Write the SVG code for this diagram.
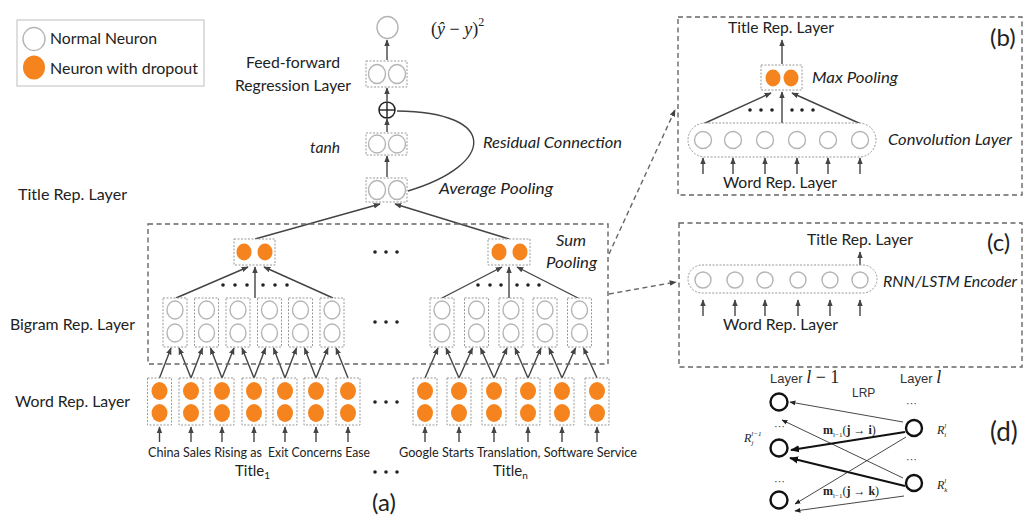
<svg xmlns="http://www.w3.org/2000/svg" xmlns:xlink="http://www.w3.org/1999/xlink" width="1025" height="524" viewBox="0 0 1025 524">
<style>
  .t{font-family:Lato,"Open Sans","Liberation Sans",sans-serif;fill:#222;font-size:15px}
  .it{font-style:italic}
  .s13{font-size:13px}
  .big{font-size:24px}
  .m{font-family:"Liberation Serif","DejaVu Serif",serif;fill:#222}
  .bx{fill:#fff;stroke:#999;stroke-width:1;stroke-dasharray:2 1.5}
  .nn{fill:#fff;stroke:#b5b5b5;stroke-width:1.4}
  .dn{fill:#F5841F;stroke:none}
  .ln{stroke:#444;stroke-width:1.4;fill:none}
  .dash{fill:none;stroke:#666;stroke-width:1.4;stroke-dasharray:5 3.5}
  .dot{fill:#222}
  .dk{fill:#fff;stroke:#111;stroke-width:2.4}
  .dl{stroke:#333;stroke-width:0.9;fill:none}
  .dt{stroke:#111;stroke-width:2.2;fill:none}
</style>
<defs>
  <marker id="ah" viewBox="0 0 10 10" refX="9" refY="5" markerWidth="7" markerHeight="7" orient="auto" markerUnits="userSpaceOnUse">
    <path d="M0,1 L10,5 L0,9 z" fill="#444"/>
  </marker>
  <marker id="ahs" viewBox="0 0 10 10" refX="9" refY="5" markerWidth="6" markerHeight="6" orient="auto" markerUnits="userSpaceOnUse">
    <path d="M0,1 L10,5 L0,9 z" fill="#222"/>
  </marker>
  <marker id="ahb" viewBox="0 0 10 10" refX="9" refY="5" markerWidth="9" markerHeight="9" orient="auto" markerUnits="userSpaceOnUse">
    <path d="M0,1 L10,5 L0,9 z" fill="#111"/>
  </marker>
  <g id="wbox">
    <rect class="bx" x="-12" y="0" width="24" height="47"/>
    <ellipse class="dn" cx="0" cy="13" rx="8" ry="9"/>
    <ellipse class="dn" cx="0" cy="35" rx="8" ry="9"/>
  </g>
  <g id="bbox">
    <rect class="bx" x="-12" y="0" width="24" height="49"/>
    <ellipse class="nn" cx="0" cy="12" rx="8" ry="9"/>
    <ellipse class="nn" cx="0" cy="35" rx="8" ry="9"/>
  </g>
</defs>
<rect width="1025" height="524" fill="#fff"/>

<!-- legend -->
<g id="legend">
  <rect x="17" y="20" width="187" height="66" fill="#fff" stroke="#c8c8c8" stroke-width="1.2"/>
  <ellipse class="nn" cx="34" cy="39" rx="11" ry="11.5"/>
  <ellipse class="dn" cx="34" cy="67.5" rx="11" ry="12"/>
  <text class="t" x="50" y="44" textLength="107" lengthAdjust="spacingAndGlyphs">Normal Neuron</text>
  <text class="t" x="50" y="74" textLength="148" lengthAdjust="spacingAndGlyphs">Neuron with dropout</text>
</g>

<!-- left labels -->
<g id="labels-left">
  <text class="t" x="246" y="68" textLength="94" lengthAdjust="spacingAndGlyphs">Feed-forward</text>
  <text class="t" x="235" y="91" textLength="116" lengthAdjust="spacingAndGlyphs">Regression Layer</text>
  <text class="t" x="18" y="200" textLength="109" lengthAdjust="spacingAndGlyphs">Title Rep. Layer</text>
  <text class="t" x="10" y="330" textLength="125" lengthAdjust="spacingAndGlyphs">Bigram Rep. Layer</text>
  <text class="t" x="15" y="407" textLength="115" lengthAdjust="spacingAndGlyphs">Word Rep. Layer</text>
</g>

<!-- connectors -->
<g id="connectors">
  <!-- top stack -->
  <line class="ln" x1="387" y1="177" x2="387" y2="156" marker-end="url(#ah)"/>
  <line class="ln" x1="387" y1="132" x2="387" y2="119" marker-end="url(#ah)"/>
  <line class="ln" x1="387" y1="101" x2="387" y2="88" marker-end="url(#ah)"/>
  <line class="ln" x1="387" y1="60" x2="387" y2="40" marker-end="url(#ah)"/>
  <path class="ln" d="M408,191 C495,165 500,112 397,111"/>
  <!-- pooled to avg -->
  <line class="ln" x1="255" y1="239" x2="380" y2="204" marker-end="url(#ah)"/>
  <line class="ln" x1="509" y1="239" x2="395" y2="204" marker-end="url(#ah)"/>
  <!-- bigram to pooled left -->
  <line class="ln" x1="176" y1="298" x2="248" y2="267" marker-end="url(#ah)"/>
  <line class="ln" x1="255" y1="298" x2="255" y2="267" marker-end="url(#ah)"/>
  <line class="ln" x1="333" y1="298" x2="264" y2="267" marker-end="url(#ah)"/>
  <!-- bigram to pooled right -->
  <line class="ln" x1="442" y1="298" x2="502" y2="267" marker-end="url(#ah)"/>
  <line class="ln" x1="509" y1="298" x2="509" y2="267" marker-end="url(#ah)"/>
  <line class="ln" x1="578" y1="298" x2="517" y2="267" marker-end="url(#ah)"/>
  <!-- words to bigrams left -->
  <line class="ln" x1="159.5" y1="378" x2="171" y2="348" marker-end="url(#ah)"/>
  <line class="ln" x1="191" y1="378" x2="179" y2="348" marker-end="url(#ah)"/>
  <line class="ln" x1="191" y1="378" x2="202.5" y2="348" marker-end="url(#ah)"/>
  <line class="ln" x1="222" y1="378" x2="210.5" y2="348" marker-end="url(#ah)"/>
  <line class="ln" x1="222" y1="378" x2="234" y2="348" marker-end="url(#ah)"/>
  <line class="ln" x1="254" y1="378" x2="242" y2="348" marker-end="url(#ah)"/>
  <line class="ln" x1="254" y1="378" x2="265.5" y2="348" marker-end="url(#ah)"/>
  <line class="ln" x1="285" y1="378" x2="273.5" y2="348" marker-end="url(#ah)"/>
  <line class="ln" x1="285" y1="378" x2="296.5" y2="348" marker-end="url(#ah)"/>
  <line class="ln" x1="316" y1="378" x2="304.5" y2="348" marker-end="url(#ah)"/>
  <line class="ln" x1="316" y1="378" x2="328" y2="348" marker-end="url(#ah)"/>
  <line class="ln" x1="348" y1="378" x2="336" y2="348" marker-end="url(#ah)"/>
  <!-- words to bigrams right -->
  <line class="ln" x1="425" y1="378" x2="438" y2="348" marker-end="url(#ah)"/>
  <line class="ln" x1="459" y1="378" x2="446" y2="348" marker-end="url(#ah)"/>
  <line class="ln" x1="459" y1="378" x2="472.5" y2="348" marker-end="url(#ah)"/>
  <line class="ln" x1="494" y1="378" x2="480.5" y2="348" marker-end="url(#ah)"/>
  <line class="ln" x1="494" y1="378" x2="507" y2="348" marker-end="url(#ah)"/>
  <line class="ln" x1="528" y1="378" x2="515" y2="348" marker-end="url(#ah)"/>
  <line class="ln" x1="528" y1="378" x2="541" y2="348" marker-end="url(#ah)"/>
  <line class="ln" x1="562" y1="378" x2="549" y2="348" marker-end="url(#ah)"/>
  <line class="ln" x1="562" y1="378" x2="575.5" y2="348" marker-end="url(#ah)"/>
  <line class="ln" x1="597" y1="378" x2="583.5" y2="348" marker-end="url(#ah)"/>
  <!-- input arrows under words -->
  <g>
    <line class="ln" x1="159.5" y1="442" x2="159.5" y2="427" marker-end="url(#ah)"/>
    <line class="ln" x1="191" y1="442" x2="191" y2="427" marker-end="url(#ah)"/>
    <line class="ln" x1="222" y1="442" x2="222" y2="427" marker-end="url(#ah)"/>
    <line class="ln" x1="254" y1="442" x2="254" y2="427" marker-end="url(#ah)"/>
    <line class="ln" x1="285" y1="442" x2="285" y2="427" marker-end="url(#ah)"/>
    <line class="ln" x1="316" y1="442" x2="316" y2="427" marker-end="url(#ah)"/>
    <line class="ln" x1="348" y1="442" x2="348" y2="427" marker-end="url(#ah)"/>
    <line class="ln" x1="425" y1="442" x2="425" y2="427" marker-end="url(#ah)"/>
    <line class="ln" x1="459" y1="442" x2="459" y2="427" marker-end="url(#ah)"/>
    <line class="ln" x1="494" y1="442" x2="494" y2="427" marker-end="url(#ah)"/>
    <line class="ln" x1="528" y1="442" x2="528" y2="427" marker-end="url(#ah)"/>
    <line class="ln" x1="562" y1="442" x2="562" y2="427" marker-end="url(#ah)"/>
    <line class="ln" x1="597" y1="442" x2="597" y2="427" marker-end="url(#ah)"/>
  </g>
  <!-- dashed links to (b) and (c) -->
  <line class="dash" x1="609" y1="254" x2="675" y2="110" marker-end="url(#ah)"/>
  <line class="dash" x1="609" y1="294" x2="676" y2="282" marker-end="url(#ah)"/>
  <!-- panel b -->
  <line class="ln" x1="782" y1="64" x2="782" y2="40" marker-end="url(#ah)"/>
  <line class="ln" x1="703" y1="124" x2="771" y2="93" marker-end="url(#ah)"/>
  <line class="ln" x1="782" y1="124" x2="782" y2="92" marker-end="url(#ah)"/>
  <line class="ln" x1="861" y1="124" x2="792" y2="93" marker-end="url(#ah)"/>
  <line class="ln" x1="703" y1="174" x2="703" y2="158" marker-end="url(#ah)"/>
  <line class="ln" x1="733" y1="174" x2="733" y2="158" marker-end="url(#ah)"/>
  <line class="ln" x1="765" y1="174" x2="765" y2="158" marker-end="url(#ah)"/>
  <line class="ln" x1="797" y1="174" x2="797" y2="158" marker-end="url(#ah)"/>
  <line class="ln" x1="828" y1="174" x2="828" y2="158" marker-end="url(#ah)"/>
  <line class="ln" x1="860" y1="174" x2="860" y2="158" marker-end="url(#ah)"/>
  <!-- panel c -->
  <line class="ln" x1="860" y1="272" x2="860" y2="252" marker-end="url(#ah)"/>
  <line class="ln" x1="711" y1="280" x2="727" y2="280" marker-end="url(#ah)"/>
  <line class="ln" x1="743" y1="280" x2="757" y2="280" marker-end="url(#ah)"/>
  <line class="ln" x1="773" y1="280" x2="790" y2="280" marker-end="url(#ah)"/>
  <line class="ln" x1="806" y1="280" x2="822" y2="280" marker-end="url(#ah)"/>
  <line class="ln" x1="838" y1="280" x2="852" y2="280" marker-end="url(#ah)"/>
  <line class="ln" x1="703" y1="316" x2="703" y2="300" marker-end="url(#ah)"/>
  <line class="ln" x1="735" y1="316" x2="735" y2="300" marker-end="url(#ah)"/>
  <line class="ln" x1="765" y1="316" x2="765" y2="300" marker-end="url(#ah)"/>
  <line class="ln" x1="798" y1="316" x2="798" y2="300" marker-end="url(#ah)"/>
  <line class="ln" x1="830" y1="316" x2="830" y2="300" marker-end="url(#ah)"/>
  <line class="ln" x1="860" y1="316" x2="860" y2="300" marker-end="url(#ah)"/>
</g>

<!-- main (a) structure -->
<g id="top-output">
  <ellipse class="nn" cx="387.5" cy="27.5" rx="10.5" ry="11"/>
  <text class="m" x="431" y="35" font-size="18">(<tspan font-style="italic">ŷ</tspan> − <tspan font-style="italic">y</tspan>)<tspan font-size="12" dy="-9">2</tspan></text>
</g>
<g id="ff-layer">
  <rect class="bx" x="366" y="61" width="41" height="26"/>
  <ellipse class="nn" cx="377" cy="74" rx="8.5" ry="9.5"/>
  <ellipse class="nn" cx="397" cy="74" rx="8.5" ry="9.5"/>
</g>
<g id="plus">
  <circle cx="387" cy="110" r="8" fill="#fff" stroke="#222" stroke-width="1.5"/>
  <line x1="379" y1="110" x2="395" y2="110" stroke="#222" stroke-width="1.4"/>
  <line x1="387" y1="102" x2="387" y2="118" stroke="#222" stroke-width="1.4"/>
</g>
<g id="tanh-layer">
  <rect class="bx" x="366" y="133" width="41" height="22"/>
  <ellipse class="nn" cx="377" cy="144" rx="8.5" ry="9"/>
  <ellipse class="nn" cx="397" cy="144" rx="8.5" ry="9"/>
  <text class="t it" x="310" y="153" textLength="30" lengthAdjust="spacingAndGlyphs">tanh</text>
</g>
<g id="avg-layer">
  <rect class="bx" x="366" y="178" width="41" height="24"/>
  <ellipse class="nn" cx="377" cy="190" rx="8.5" ry="9.5"/>
  <ellipse class="nn" cx="397" cy="190" rx="8.5" ry="9.5"/>
  <text class="t it" x="439" y="194" textLength="114" lengthAdjust="spacingAndGlyphs">Average Pooling</text>
  <text class="t it" x="483" y="148" textLength="139" lengthAdjust="spacingAndGlyphs">Residual Connection</text>
</g>

<g id="sum-pooling-box">
  <rect class="dash" x="148" y="224" width="460" height="140"/>
  <text class="t it" x="556" y="246" textLength="30" lengthAdjust="spacingAndGlyphs">Sum</text>
  <text class="t it" x="546" y="268" textLength="51" lengthAdjust="spacingAndGlyphs">Pooling</text>
</g>
<g id="pooled-1">
  <rect class="bx" x="234" y="239" width="41" height="26"/>
  <ellipse class="dn" cx="244" cy="252" rx="7.5" ry="8.5"/>
  <ellipse class="dn" cx="265" cy="252" rx="7.5" ry="8.5"/>
</g>
<g id="pooled-n">
  <rect class="bx" x="488" y="239" width="42" height="26"/>
  <ellipse class="dn" cx="499" cy="252" rx="7.5" ry="8.5"/>
  <ellipse class="dn" cx="520" cy="252" rx="7.5" ry="8.5"/>
</g>
<g id="dots">
  <circle class="dot" cx="223" cy="285" r="1.8"/><circle class="dot" cx="235" cy="285" r="1.8"/><circle class="dot" cx="247" cy="285" r="1.8"/>
  <circle class="dot" cx="263" cy="285" r="1.8"/><circle class="dot" cx="275" cy="285" r="1.8"/><circle class="dot" cx="287" cy="285" r="1.8"/>
  <circle class="dot" cx="478" cy="285" r="1.8"/><circle class="dot" cx="490" cy="285" r="1.8"/><circle class="dot" cx="501" cy="285" r="1.8"/>
  <circle class="dot" cx="517" cy="285" r="1.8"/><circle class="dot" cx="528" cy="285" r="1.8"/><circle class="dot" cx="539" cy="285" r="1.8"/>
  <circle class="dot" cx="375" cy="252" r="1.8"/><circle class="dot" cx="386" cy="252" r="1.8"/><circle class="dot" cx="397" cy="252" r="1.8"/>
  <circle class="dot" cx="375" cy="322" r="1.8"/><circle class="dot" cx="386" cy="322" r="1.8"/><circle class="dot" cx="397" cy="322" r="1.8"/>
  <circle class="dot" cx="375" cy="402" r="1.8"/><circle class="dot" cx="386" cy="402" r="1.8"/><circle class="dot" cx="397" cy="402" r="1.8"/>
  <circle class="dot" cx="375" cy="472" r="1.8"/><circle class="dot" cx="386" cy="472" r="1.8"/><circle class="dot" cx="397" cy="472" r="1.8"/>
</g>
<g id="bigram-1">
  <use xlink:href="#bbox" x="175" y="298"/>
  <use xlink:href="#bbox" x="206.5" y="298"/>
  <use xlink:href="#bbox" x="238" y="298"/>
  <use xlink:href="#bbox" x="269.5" y="298"/>
  <use xlink:href="#bbox" x="300.5" y="298"/>
  <use xlink:href="#bbox" x="332" y="298"/>
</g>
<g id="bigram-n">
  <use xlink:href="#bbox" x="442" y="298"/>
  <use xlink:href="#bbox" x="476.5" y="298"/>
  <use xlink:href="#bbox" x="511" y="298"/>
  <use xlink:href="#bbox" x="545" y="298"/>
  <use xlink:href="#bbox" x="579.5" y="298"/>
</g>
<g id="words-1">
  <use xlink:href="#wbox" x="159.5" y="378"/>
  <use xlink:href="#wbox" x="191" y="378"/>
  <use xlink:href="#wbox" x="222" y="378"/>
  <use xlink:href="#wbox" x="254" y="378"/>
  <use xlink:href="#wbox" x="285" y="378"/>
  <use xlink:href="#wbox" x="316" y="378"/>
  <use xlink:href="#wbox" x="348" y="378"/>
</g>
<g id="words-n">
  <use xlink:href="#wbox" x="425" y="378"/>
  <use xlink:href="#wbox" x="459" y="378"/>
  <use xlink:href="#wbox" x="494" y="378"/>
  <use xlink:href="#wbox" x="528" y="378"/>
  <use xlink:href="#wbox" x="562" y="378"/>
  <use xlink:href="#wbox" x="597" y="378"/>
</g>
<g id="titles">
  <text class="t s13" x="148" y="457" textLength="114" lengthAdjust="spacingAndGlyphs">China Sales Rising as</text>
  <text class="t s13" x="268" y="457" textLength="102" lengthAdjust="spacingAndGlyphs">Exit Concerns Ease</text>
  <text class="t s13" x="399" y="457" textLength="238" lengthAdjust="spacingAndGlyphs">Google Starts Translation, Software Service</text>
  <text class="t" x="235" y="476">Title<tspan font-size="10" dy="3">1</tspan></text>
  <text class="t" x="493" y="476">Title<tspan font-size="10" dy="3">n</tspan></text>
  <text class="t big" x="372" y="511">(a)</text>
</g>

<!-- panel b -->
<g id="panel-b">
  <rect class="dash" x="678" y="17" width="344" height="178"/>
  <text class="t big" x="990" y="46">(b)</text>
  <text class="t" x="728" y="33" textLength="106" lengthAdjust="spacingAndGlyphs">Title Rep. Layer</text>
  <rect class="bx" x="761" y="65" width="41" height="25"/>
  <ellipse class="dn" cx="773" cy="78" rx="7.5" ry="8.5"/>
  <ellipse class="dn" cx="791" cy="78" rx="7.5" ry="8.5"/>
  <text class="t it" x="812" y="83" textLength="86" lengthAdjust="spacingAndGlyphs">Max Pooling</text>
  <circle class="dot" cx="750" cy="110" r="1.8"/><circle class="dot" cx="761" cy="110" r="1.8"/><circle class="dot" cx="772" cy="110" r="1.8"/>
  <circle class="dot" cx="792" cy="110" r="1.8"/><circle class="dot" cx="802" cy="110" r="1.8"/><circle class="dot" cx="813" cy="110" r="1.8"/>
  <rect class="bx" x="688" y="123" width="188" height="34" rx="17"/>
  <circle class="nn" cx="703" cy="140" r="8.5"/>
  <circle class="nn" cx="733" cy="140" r="8.5"/>
  <circle class="nn" cx="765" cy="140" r="8.5"/>
  <circle class="nn" cx="797" cy="140" r="8.5"/>
  <circle class="nn" cx="828" cy="140" r="8.5"/>
  <circle class="nn" cx="860" cy="140" r="8.5"/>
  <text class="t it" x="888" y="145" textLength="124" lengthAdjust="spacingAndGlyphs">Convolution Layer</text>
  <text class="t" x="723" y="188" textLength="114" lengthAdjust="spacingAndGlyphs">Word Rep. Layer</text>
</g>

<!-- panel c -->
<g id="panel-c">
  <rect class="dash" x="679" y="223" width="343" height="144"/>
  <text class="t big" x="987" y="251">(c)</text>
  <text class="t" x="807" y="245" textLength="106" lengthAdjust="spacingAndGlyphs">Title Rep. Layer</text>
  <rect class="bx" x="688" y="265" width="189" height="28" rx="14"/>
  <circle class="nn" cx="703" cy="280" r="8"/>
  <circle class="nn" cx="735" cy="280" r="8"/>
  <circle class="nn" cx="765" cy="280" r="8"/>
  <circle class="nn" cx="798" cy="280" r="8"/>
  <circle class="nn" cx="830" cy="280" r="8"/>
  <circle class="nn" cx="860" cy="280" r="8"/>
  <text class="t it" x="883" y="287" textLength="134" lengthAdjust="spacingAndGlyphs">RNN/LSTM Encoder</text>
  <text class="t" x="723" y="330" textLength="115" lengthAdjust="spacingAndGlyphs">Word Rep. Layer</text>
</g>

<!-- panel d -->
<g id="panel-d">
  <text x="770" y="383" font-family="'Liberation Sans',sans-serif" font-size="13" fill="#333">Layer <tspan class="m" font-style="italic" font-size="18" fill="#111">l</tspan><tspan class="m" font-size="18" fill="#111"> − 1</tspan></text>
  <text x="900" y="383" font-family="'Liberation Sans',sans-serif" font-size="13" fill="#333">Layer <tspan class="m" font-style="italic" font-size="18" fill="#111">l</tspan></text>
  <text x="852" y="397" font-family="'Liberation Sans',sans-serif" font-size="12" fill="#333">LRP</text>
  <text class="m" x="774" y="430" font-size="11" fill="#666">···</text>
  <text class="m" x="774" y="485" font-size="11" fill="#666">···</text>
  <text class="m" x="906" y="407" font-size="11" fill="#666">···</text>
  <text class="m" x="906" y="463" font-size="11" fill="#666">···</text>
  <line class="dl" x1="903" y1="422" x2="790" y2="402" marker-end="url(#ahs)"/>
  <line class="dl" x1="903" y1="478" x2="782" y2="420" marker-end="url(#ahs)"/>
  <line class="dt" x1="905" y1="432" x2="791" y2="450" marker-end="url(#ahb)"/>
  <line class="dt" x1="905" y1="486" x2="790" y2="458" marker-end="url(#ahb)"/>
  <line class="dl" x1="906" y1="437" x2="795" y2="504" marker-end="url(#ahs)"/>
  <line class="dl" x1="904" y1="496" x2="795" y2="511" marker-end="url(#ahs)"/>
  <circle class="dk" cx="779" cy="402" r="8.5"/>
  <circle class="dk" cx="779" cy="448" r="8.5"/>
  <circle class="dk" cx="779" cy="500" r="8.5"/>
  <circle class="dk" cx="914" cy="428" r="8"/>
  <circle class="dk" cx="914" cy="483" r="8"/>
  <text class="m" x="823" y="434" font-size="12"><tspan font-weight="bold">m</tspan><tspan font-size="7" dy="3">l−1</tspan><tspan dy="-3">(</tspan><tspan font-weight="bold">j</tspan> → <tspan font-weight="bold">i</tspan>)</text>
  <text class="m" x="823" y="495" font-size="12"><tspan font-weight="bold">m</tspan><tspan font-size="7" dy="3">l−1</tspan><tspan dy="-3">(</tspan><tspan font-weight="bold">j</tspan> → <tspan font-weight="bold">k</tspan>)</text>
  <text class="m" x="937" y="434" font-size="12" font-style="italic" fill="#444">R<tspan font-size="7" dy="-6">l</tspan><tspan font-size="7" dx="-2" dy="9">i</tspan></text>
  <text class="m" x="937" y="489" font-size="12" font-style="italic" fill="#444">R<tspan font-size="7" dy="-6">l</tspan><tspan font-size="7" dx="-2" dy="9">k</tspan></text>
  <text class="m" x="744" y="442" font-size="12" font-style="italic" fill="#444">R<tspan font-size="7" dy="-6">l−1</tspan><tspan font-size="7" dx="-10" dy="9">j</tspan></text>
  <text class="t" x="990" y="441" style="font-size:26px">(d)</text>
</g>
</svg>
